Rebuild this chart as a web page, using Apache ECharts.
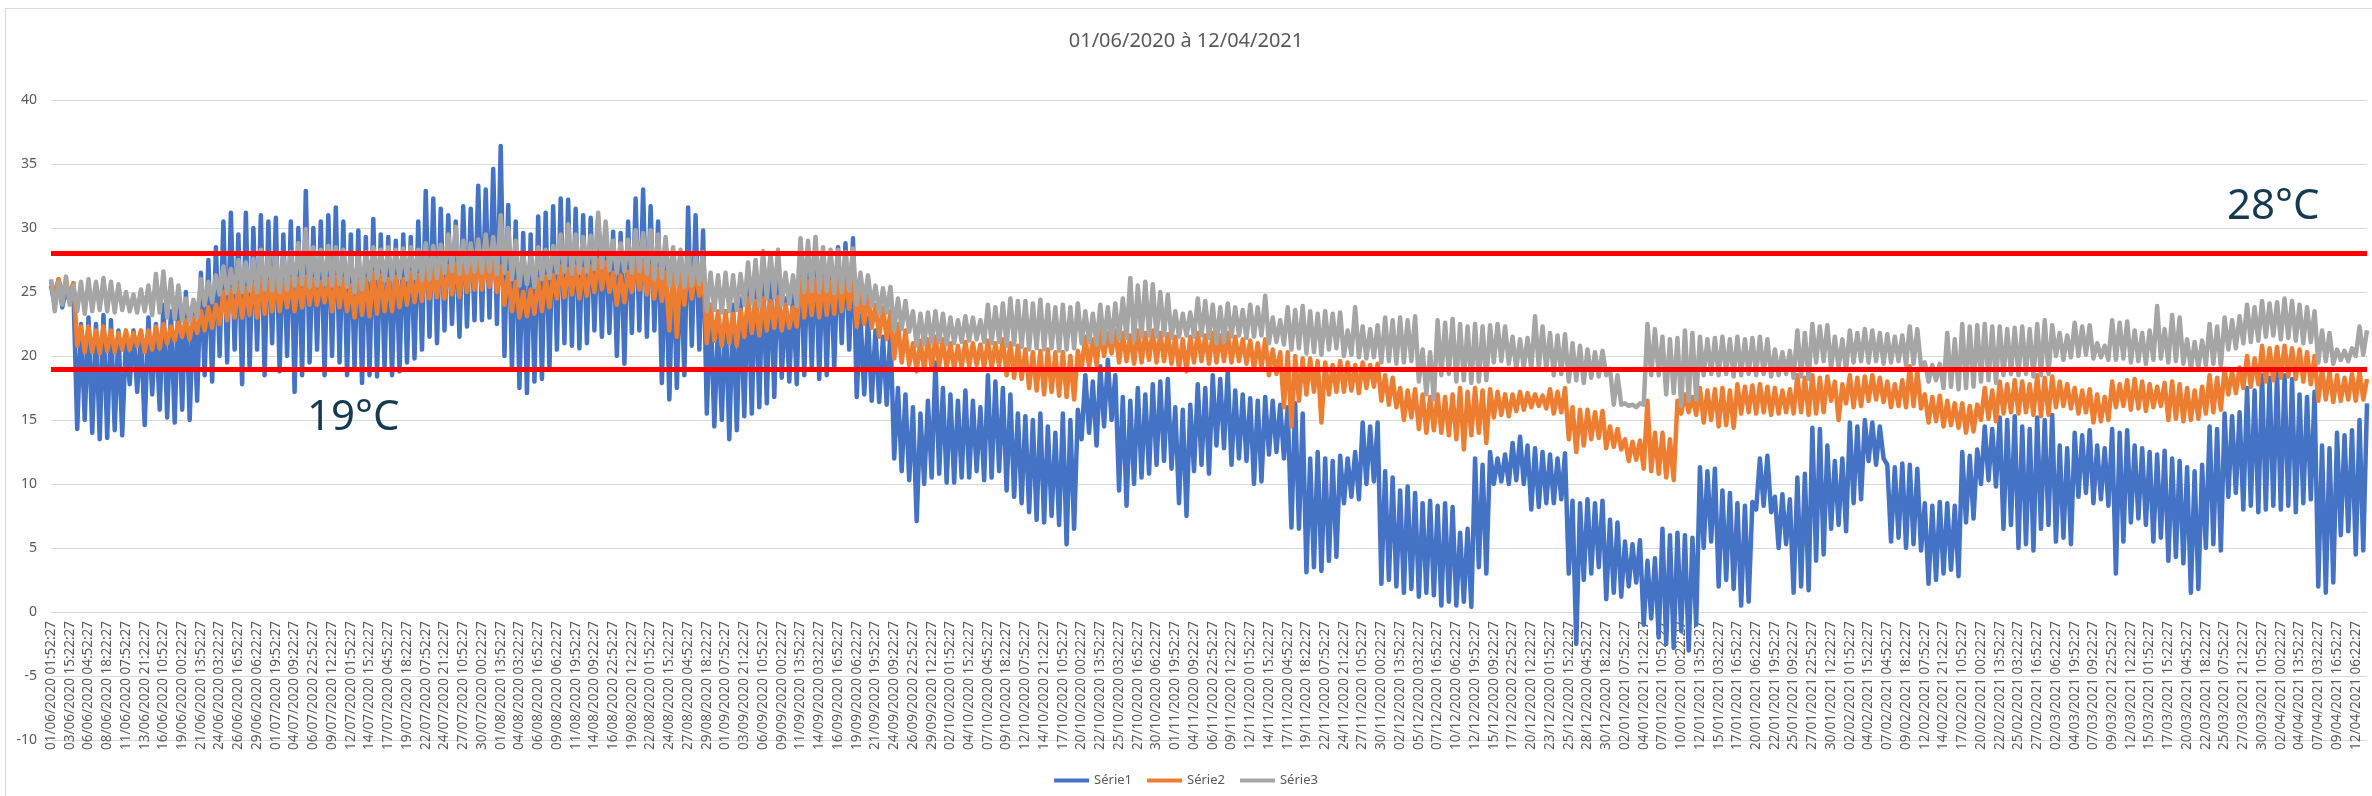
<!DOCTYPE html>
<html>
<head>
<meta charset="utf-8">
<title>01/06/2020 à 12/04/2021</title>
<script src="https://cdn.jsdelivr.net/npm/echarts@6/dist/echarts.min.js"></script>
<style>
  html, body { margin: 0; padding: 0; background: #fff; }
  #frame { position: absolute; left: 5px; top: 8px; width: 2400px; height: 900px;
           border-left: 1px solid #d9d9d9; border-top: 1px solid #d9d9d9; }
  #chart { position: absolute; left: 0; top: 0; width: 2372px; height: 796px; }
</style>
</head>
<body>
<div id="frame"></div>
<div id="chart"></div>
<script>
// one point every 12.3 h, a tick label every 5 points (61.5 h)
var START = Date.UTC(2020, 5, 1, 1, 52, 27)
var STEP_HOURS = 12.3
var LABEL_EVERY = 5

var seriesNames = ['Série1', 'Série2', 'Série3']
var thresholds = [28, 19]
var Y_MIN = -10
var Y_MAX = 40

var serie1 = [
  25.5, 24, 26, 23.8, 25.2,  24.2, 25, 14.3, 22.5, 15,  23, 14, 22.5, 13.5, 23.2,  13.6, 22.8, 14.2, 22, 13.8,
  21.5, 17.8, 22, 17.2, 21.8,  14.6, 23, 17, 22.5, 15.8,  24, 15.2, 23.5, 14.8, 24.5,  15.8, 25, 15, 24, 16.5,
  26.5, 18.5, 27.5, 18, 28.5,  20, 30.5, 19.5, 31.2, 20.5,  29.5, 17.8, 31.2, 19, 30,  20.5, 31, 18.5, 30.5, 21,
  30.8, 18.8, 29.5, 20, 30.5,  17.2, 30, 18.5, 32.9, 19.5,  30, 20.5, 30.5, 18.5, 31,  20, 31.6, 19.5, 30.5, 18.5,
  29.5, 19, 29.8, 17.9, 29.3,  18.5, 30.7, 18.4, 29.5, 19,  29.3, 18.5, 29, 18.8, 29.5,  19.5, 29.3, 19.8, 30.5, 20.5,
  32.9, 21.5, 32.3, 21, 31.5,  22, 31, 22.5, 30.5, 21.5,  31.7, 22.3, 31.5, 22.8, 33.3,  22.8, 33, 23, 34.6, 22.5,
  36.4, 20, 31.8, 19, 30.5,  17.5, 29.6, 17.1, 29.5, 18,  30.9, 18.2, 31.2, 19, 31.7,  20.5, 32.3, 21, 32.2, 20.8,
  31.5, 20.6, 31, 21, 30.8,  22, 30.4, 21.5, 30, 21.8,  29.7, 20, 29.6, 19.4, 30.5,  21.8, 32.3, 22, 33, 21.5,
  31.7, 22, 30.5, 17.9, 28.3,  16.6, 28, 17.5, 27.5, 18.5,  31.6, 20.8, 31, 20.5, 29.8,  15.5, 24, 14.5, 22.5, 15,
  23.5, 13.5, 24, 14.2, 24.5,  15.3, 26, 15.5, 26.5, 16,  27, 16.3, 26.5, 16.8, 27.5,  18.3, 24.5, 18, 25, 17.8,
  28.8, 18.5, 28.5, 19, 28.7,  18.2, 28, 18.5, 28.2, 19,  28.5, 21, 28.8, 20.5, 29.2,  16.8, 23.2, 17, 23, 16.5,
  22, 16.4, 21.5, 16.2, 22,  12, 17.5, 11, 17, 10.3,  16, 7.1, 15.5, 10, 16.5,  10.5, 19.5, 10.8, 17.5, 10.1,
  17, 10.1, 16.5, 10.5, 17.3,  10.5, 16.5, 11, 16, 10.3,  18.5, 10.5, 18, 11, 17.5,  9.5, 17, 9, 15.5, 8.5,
  15.3, 7.8, 15, 7.2, 15.5,  7, 14.5, 7.5, 14, 6.8,  15.5, 5.3, 15, 6.5, 15.8,  13.5, 18.5, 14, 18, 13,
  19.2, 14.5, 19.7, 15, 18.5,  9.5, 16.8, 8.3, 16.5, 10,  17.5, 10.5, 17, 10.8, 17.8,  11.5, 18, 11.8, 18.2, 11.2,
  16, 8.5, 15.8, 7.5, 16.2,  11, 17.8, 11.5, 17.5, 10.8,  18.5, 13, 18.2, 12.8, 18.8,  11.5, 17.3, 12, 17, 11.8,
  16.7, 10, 16.5, 10.2, 16.8,  12.3, 16.5, 12.5, 16.2, 12,  16, 6.6, 16.3, 6.5, 15.5,  3.1, 12, 3.5, 12.5, 3.2,
  12, 4, 11.8, 4.3, 12.2,  8.5, 12, 9, 12.5, 8.8,  14.8, 10, 14.5, 10.2, 14.8,  2.2, 11, 2.5, 10.5, 2,
  9.5, 1.5, 9.8, 1.8, 9.3,  1.2, 8.5, 1.5, 8.7, 1.3,  8.3, 0.5, 8.5, 0.8, 8.2,  0.5, 6.2, 0.8, 6.5, 0.4,
  12, 3.5, 11.5, 3, 12.5,  10, 12, 10.2, 12.3, 10,  13.2, 10.3, 13.7, 10, 13,  8, 12.8, 8.2, 12.5, 8.5,
  12.3, 8.5, 12, 8.8, 12.4,  3, 8.7, -2.5, 8.5, 2.5,  8.8, 3, 8.5, 3.5, 8.7,  1, 7.2, 1.5, 7, 1.2,
  5.5, 2, 5.3, 2.3, 5.6,  -1, 4, -0.5, 4.2, -2,  6.5, -2.5, 6, -2.8, 6.2,  -1.5, 6, -3, 5.8, -1,
  11.3, 5, 11, 5.5, 11.2,  2, 9.5, 2.5, 9.3, 1.8,  8.5, 0.5, 8.3, 0.8, 8.6,  8, 12, 8.3, 12.2, 7.8,
  9, 5, 9.2, 5.3, 8.8,  1.5, 10.5, 2, 10.8, 1.7,  14.4, 4, 14.3, 4.5, 13,  6.5, 11.8, 6.8, 12, 6.3,
  14.8, 8.5, 14.5, 8.8, 15,  11.8, 14.8, 11.5, 14.5, 12,  11.5, 5.5, 11.3, 5.8, 11.6,  5, 11.5, 5.3, 11.2, 4.8,
  8.5, 2.2, 8.3, 2.5, 8.6,  3, 8.5, 3.3, 8.3, 2.8,  12.5, 7, 12.2, 7.3, 12.7,  10, 14.5, 10.3, 14.3, 9.8,
  15.2, 6.5, 15, 6.8, 15.3,  5, 14.5, 5.3, 14.3, 4.8,  15.2, 6.5, 15, 6.8, 15.4,  5.5, 13, 5.8, 12.8, 5.3,
  14, 9, 13.8, 9.3, 14.2,  8.5, 13, 8.8, 12.8, 8.3,  14.3, 3, 14, 5.5, 14.2,  7, 13, 7.3, 12.8, 6.8,
  12.5, 5.5, 12.3, 5.8, 12.6,  4, 12, 4.3, 11.8, 3.8,  11.3, 1.5, 11, 1.8, 11.5,  5, 14.5, 5.3, 14.3, 4.8,
  15.5, 9, 15.3, 9.3, 15.6,  8, 17.5, 8.3, 17.3, 7.8,  18.5, 8, 18.3, 8.3, 18.7,  8, 18.5, 8.3, 18.2, 7.8,
  17, 8.5, 16.8, 8.8, 17.2,  2, 13, 1.5, 12.8, 2.3,  14, 6, 13.8, 6.3, 14.2,  4.5, 15, 4.8, 16.3
]

var serie2 = [
  25.8, 24.8, 26, 25, 25.5,  25, 25.7, 20.8, 22.3, 20.3,  22.3, 20.3, 22, 20.2, 22.3,  20.4, 22, 20.3, 21.8, 20.5,
  22, 20.5, 21.8, 20.8, 22,  20.3, 22, 20.5, 22.3, 20.6,  22.5, 21, 22.3, 21.2, 22.6,  21.5, 22.8, 21.3, 23, 21.8,
  23.5, 22, 23.8, 22.2, 24,  22.5, 25, 22.8, 25.2, 23,  25.5, 23, 25.3, 23.2, 25.6,  23, 26, 23.3, 25.8, 23.5,
  26, 23.5, 25.8, 23.8, 26,  23.5, 26, 23.8, 26.2, 24,  26, 24, 25.8, 24.2, 26,  23.5, 26.2, 23.8, 26, 23.5,
  25.5, 23, 25.8, 23.2, 26,  23.1, 26.5, 23.3, 26.3, 23.5,  26, 23.5, 26.2, 23.8, 26,  24, 26.5, 24.2, 26.3, 24.3,
  27, 24.5, 26.8, 24.6, 27,  24.5, 27, 24.8, 27.2, 24.6,  27.5, 25, 27.3, 25.2, 27.6,  25.2, 27.8, 25.4, 27.6, 25,
  27, 24, 26.5, 23.5, 25.8,  23, 25, 23.1, 25.2, 23.3,  26, 23.5, 26.2, 23.8, 26.3,  24.5, 27, 24.6, 26.8, 24.8,
  27, 24.5, 26.8, 24.7, 27,  25, 27.5, 25.2, 27.3, 25,  26.5, 24, 26.3, 24.2, 26.6,  25, 27.5, 25.2, 27.3, 24.8,
  27, 24.5, 26.8, 24.3, 26.5,  22, 27, 21.5, 26.8, 24,  27, 24.5, 26.8, 24.7, 26.5,  21, 24, 21.2, 23.5, 20.8,
  23.5, 21, 23.3, 20.8, 23.6,  21.5, 24.5, 21.8, 24.3, 21.6,  24.5, 22, 24.3, 22.2, 24.6,  22, 24, 22.2, 23.8, 22.3,
  26, 23, 25.8, 23.2, 26,  23, 26, 23.2, 25.8, 23.3,  26.5, 23.5, 26.3, 23.7, 26.4,  22.3, 25, 22.5, 24.8, 22.2,
  24, 21.5, 23.8, 21.3, 23.5,  19.8, 22.5, 19.5, 22, 19.3,  21, 18.8, 21.2, 18.9, 21.3,  19, 21.5, 19.2, 21.3, 19,
  21, 19, 20.8, 19.1, 21.1,  19.2, 21, 19.3, 20.9, 19.1,  21.2, 19, 21, 19.2, 21.3,  18.5, 21, 18.3, 20.8, 18.2,
  20.5, 17.5, 20.3, 17.3, 20.4,  17, 20.5, 17.2, 20.3, 16.9,  20.3, 16.8, 20, 16.6, 20.4,  19, 21.5, 19.2, 21.3, 19.3,
  22, 20, 21.8, 20.2, 22,  19.5, 21.8, 19.6, 21.6, 19.4,  22, 19.5, 21.8, 19.7, 22,  19.5, 21.8, 19.6, 21.7, 19.4,
  21.5, 19, 21.3, 18.8, 21.5,  19.5, 21.8, 19.6, 21.6, 19.4,  21.8, 19.5, 21.6, 19.6, 21.8,  19.5, 21.5, 19.6, 21.3, 19.4,
  21.2, 19, 21, 19.1, 21.3,  18.5, 20.5, 18.6, 20.3, 16,  20.3, 14.5, 20, 16.5, 19.8,  17, 19.8, 17.2, 19.6, 14.8,
  19.5, 17, 19.3, 17.2, 19.6,  17.2, 19.5, 17.3, 19.3, 17.1,  19.5, 17.5, 19.3, 17.6, 19.4,  16.5, 18.5, 16.2, 18.3, 16,
  17.5, 15, 17.3, 15.2, 17.4,  14.3, 17, 14, 16.8, 14.2,  17, 14, 16.8, 13.8, 17,  13.5, 17.5, 12.7, 17.2, 13.8,
  17.5, 14, 17.3, 13.2, 17.4,  15.2, 17.2, 15.4, 17, 15.3,  17, 15.7, 17.2, 15.8, 17.1,  16, 17, 16.1, 16.9, 15.9,
  17.4, 15.5, 17.2, 15.6, 17.5,  13.5, 16, 12.5, 15.8, 13,  15.8, 13.5, 15.6, 13.6, 15.7,  12.8, 14.5, 12.9, 14.3, 12.7,
  13.5, 11.8, 13.3, 11.9, 13.4,  11.2, 16.5, 11, 14, 10.8,  14, 10.5, 13.5, 10.3, 16.5,  15.5, 17, 15.6, 16.8, 15.4,
  17.5, 14.8, 17.3, 15, 17.4,  14.5, 17.5, 14.6, 17.3, 14.4,  17.8, 15.5, 17.6, 15.6, 17.7,  15.5, 17.8, 15.6, 17.6, 15.4,
  17.5, 15.5, 17.3, 15.6, 17.4,  15.5, 18.5, 15.6, 18.3, 15.4,  18.5, 15.5, 18.3, 15.6, 18.4,  16.5, 18, 15, 17.8, 16.3,
  18.5, 16, 18.3, 16.1, 18.4,  16.5, 18.5, 16.6, 18.3, 16.4,  18, 16, 17.8, 16.1, 18.1,  16, 19.2, 16.1, 18.8, 15.9,
  17, 14.8, 16.8, 14.9, 16.9,  14.5, 16.5, 14.6, 16.3, 14.4,  16.3, 14, 16.1, 14.1, 16.2,  15, 17.5, 15.1, 17.3, 14.9,
  18, 15.5, 17.8, 15.6, 18.1,  15.5, 18, 15.6, 17.8, 15.4,  18.5, 15.3, 18.3, 15.4, 18.4,  16, 18, 16.1, 17.8, 15.9,
  17.5, 15.5, 17.3, 15.6, 17.4,  14.8, 17, 14.9, 16.8, 15,  18, 16, 17.8, 16.1, 18.1,  15.8, 18.2, 15.9, 18, 15.7,
  17.8, 16, 17.6, 16.1, 17.9,  15, 18, 15.1, 17.8, 14.9,  17.5, 15, 17.3, 15.1, 17.6,  15.5, 18.5, 15.6, 18.3, 15.8,
  19, 17, 18.8, 17.1, 19.1,  17.5, 20, 17.6, 19.8, 17.8,  20.8, 18, 20.6, 18.1, 20.7,  18.3, 20.8, 18.4, 20.6, 18.2,
  20.5, 18, 20.3, 17.8, 20,  16.5, 19, 16.6, 18.8, 16.4,  18.5, 16.5, 18.3, 16.6, 18.6,  16.5, 18.8, 16.6, 18.2
]

var serie3 = [
  26, 23.5, 25.8, 24, 26.2,  24, 25.5, 23.5, 25.8, 23.3,  26, 23.5, 25.8, 23.6, 26.1,  23.5, 25.8, 23.4, 25.6, 23.6,
  25, 23.5, 24.8, 23.4, 25.2,  23.5, 25.5, 23.2, 26.4, 23.4,  26.6, 23, 26, 22.9, 25.5,  22.8, 24.5, 22.7, 24.4, 23,
  26, 24, 25.8, 24.2, 26.3,  24.8, 27, 24.9, 26.8, 25,  27.5, 25, 27.3, 25.1, 27.6,  25, 28.3, 25.2, 28, 25.1,
  28, 25, 27.8, 25.2, 28.1,  25.5, 28.8, 25.6, 29.9, 25.4,  28.5, 25.5, 28.3, 25.6, 28.6,  25.5, 28.5, 25.6, 28.3, 25.4,
  28, 25, 27.8, 25.2, 28.1,  26, 28.5, 26.1, 28.3, 25.9,  28.5, 26, 28.3, 26.1, 28.4,  26, 28.5, 26.1, 28.3, 25.9,
  28.8, 26, 28.6, 26.1, 28.7,  26.5, 29.5, 26.6, 30.1, 26.4,  29, 26.5, 28.8, 26.6, 29.1,  26.5, 29.5, 26.6, 29.3, 26.4,
  31, 26.5, 30, 26, 29,  25.5, 28, 25.6, 27.8, 25.4,  28.5, 26, 28.3, 26.1, 28.6,  26.5, 29.5, 26.6, 30.3, 26.4,
  29.5, 26.5, 29.3, 26.6, 29.4,  26.8, 31.2, 26.9, 30.5, 26.7,  29, 26.5, 28.8, 26.6, 29.1,  26.5, 29.8, 26.6, 29.6, 26.4,
  29.8, 26, 29.5, 26.1, 29.3,  25.5, 28.5, 25.6, 28.3, 25.4,  28, 25.5, 27.8, 25.6, 28.1,  23.5, 26.5, 23.6, 26.3, 23.4,
  26.5, 23.5, 26.3, 23.6, 26.4,  24, 27.3, 24.1, 27.5, 23.9,  28.2, 24.5, 28, 24.6, 28.3,  24, 26.5, 24.1, 26.3, 23.9,
  29.2, 25, 29, 25.1, 29.3,  25, 28.5, 25.1, 28.3, 24.9,  28.3, 25, 28.1, 25.1, 28.4,  24, 26.5, 24.1, 26.3, 23.9,
  25.5, 23.3, 25.3, 23.4, 25.4,  22, 24.5, 22.1, 24.3, 21.9,  23.5, 20.8, 23.3, 20.9, 23.4,  21, 23.5, 21.1, 23.3, 20.9,
  23, 21, 22.8, 21.1, 23.1,  21.2, 23, 21.3, 22.8, 21.1,  24, 21, 23.8, 21.1, 24.1,  20.8, 24.5, 20.9, 24.3, 20.7,
  24.3, 20.5, 24.1, 20.6, 24.4,  20.5, 24, 20.6, 23.8, 20.4,  24, 20.5, 23.8, 20.6, 24.1,  21, 23.5, 21.1, 23.3, 20.9,
  24, 21, 23.8, 21.1, 24.1,  21.3, 24.5, 21.4, 26.1, 21.2,  25.5, 21.5, 25.8, 21.6, 25.6,  21.5, 25, 21.6, 24.8, 21.4,
  23.5, 21.5, 23.3, 21.6, 23.4,  21.5, 24.5, 21.6, 24.3, 21.4,  24, 21, 23.8, 21.1, 24.1,  21.5, 23.8, 21.6, 23.6, 21.4,
  24, 21.5, 23.8, 21.6, 24.7,  21, 23, 21.1, 22.8, 20.9,  23.8, 20.5, 23.6, 20.6, 23.9,  20.2, 23.5, 20.3, 23.3, 20.1,
  23.5, 20.5, 23.3, 20.6, 23.4,  20, 22, 20.1, 23.8, 19.9,  22.3, 19.8, 22.1, 19.9, 22.4,  19.5, 23, 19.6, 22.8, 19.4,
  23, 19.5, 22.8, 19.6, 23.1,  18, 20.5, 17, 20.3, 16.6,  22.8, 18.5, 22.6, 18.6, 22.9,  18, 22.5, 18.1, 22.3, 17.9,
  22.5, 18, 22.3, 18.1, 22.4,  19.5, 22.5, 19.6, 22.3, 19.4,  21.5, 19, 21.3, 19.1, 21.4,  19, 23.1, 19.1, 22.3, 18.9,
  21.8, 18.5, 21.6, 18.6, 21.7,  18, 21, 18.1, 20.8, 17.9,  20.5, 18.3, 20.3, 18.4, 20.4,  18.5, 19, 16.2, 18.5, 16.2,
  16.3, 16.1, 16.2, 16, 16.3,  16.2, 22.5, 18.5, 22.1, 18.5,  21.5, 17, 21.3, 17.1, 21.4,  16.1, 22, 16.5, 21.8, 16.6,
  21.5, 18.5, 21.3, 18.6, 21.4,  18.5, 21.5, 18.6, 21.3, 18.4,  21.5, 18.5, 21.3, 18.6, 21.4,  18.5, 21.5, 18.6, 21.3, 18.4,
  20.5, 18.5, 20.3, 18.6, 20.4,  18.3, 22, 18.4, 21.8, 18.2,  22.5, 19.5, 22.3, 19.6, 22.4,  19, 21.5, 19.1, 21.3, 18.9,
  22, 19.5, 21.8, 19.6, 22.1,  19.5, 22, 19.6, 21.8, 19.4,  21.7, 19.5, 21.5, 19.6, 21.6,  19.3, 22.3, 19.4, 22.1, 19.2,
  19.5, 18, 19.3, 18.1, 19.4,  17.5, 21.8, 17.6, 21.3, 17.4,  22.5, 17.5, 22.3, 17.6, 22.4,  18, 22.5, 18.1, 22.3, 17.9,
  22.3, 18.5, 22.1, 18.6, 22.2,  18.5, 22.3, 18.6, 22.1, 18.4,  22.5, 18.5, 22.8, 18.6, 22.4,  20, 21.8, 19.7, 21.6, 19.9,
  22.6, 20, 22.3, 20.1, 22.4,  19.8, 21, 19.9, 20.8, 19.7,  22.8, 19.7, 22.6, 19.8, 22.7,  19.5, 22, 19.6, 21.8, 19.4,
  22, 19.7, 23.9, 19.8, 22.1,  19.5, 23.2, 19.6, 23, 19.4,  21.3, 19, 21.1, 19.1, 21.2,  19.3, 22.5, 19.4, 22.3, 19.2,
  23, 20.5, 22.8, 20.6, 23.1,  21, 24, 21.1, 23.8, 21.2,  24.3, 21.5, 24.1, 21.6, 24.2,  21.3, 24.5, 21.4, 24.3, 21.2,
  24, 21, 23.8, 21.1, 23.5,  19.5, 22, 19.6, 21.8, 19.4,  20.5, 19.7, 20.4, 19.6, 20.6,  20, 22.3, 20.1, 22
]

function pad(n) {
  return (n < 10 ? '0' : '') + n
}
function formatStamp(t) {
  var d = new Date(t)
  return pad(d.getUTCDate()) + '/' + pad(d.getUTCMonth() + 1) + '/' + d.getUTCFullYear() + ' ' +
    pad(d.getUTCHours()) + ':' + pad(d.getUTCMinutes()) + ':' + pad(d.getUTCSeconds())
}
var categories = serie1.map(function (v, i) {
  return formatStamp(START + i * STEP_HOURS * 3600 * 1000)
})

var FONT = '"Noto Sans", "Liberation Sans", sans-serif'
var GREY_TEXT = '#595959'
var GRID_LINE = '#d9d9d9'
var colors = ['#4472c4', '#ed7d31', '#a5a5a5']

var GRID_TOP = 100
var GRID_BOTTOM = 56
var PLOT_HEIGHT = 796 - GRID_TOP - GRID_BOTTOM
// Excel crosses the category axis at 0: lift the axis from the bottom up to y = 0
var ZERO_LIFT = PLOT_HEIGHT * (0 - Y_MIN) / (Y_MAX - Y_MIN)

var chart = echarts.init(document.getElementById('chart'))

var lineSeries = [serie1, serie2, serie3].map(function (values, k) {
  return {
    name: seriesNames[k],
    type: 'line',
    data: values,
    showSymbol: false,
    symbol: 'none',
    z: 2 + k,
    lineStyle: { color: colors[k], width: 4.5, join: 'round' },
    itemStyle: { color: colors[k] }
  }
})

// red threshold lines drawn above the three series
lineSeries.push({
  name: 'seuils',
  type: 'line',
  data: [],
  z: 10,
  markLine: {
    silent: true,
    symbol: ['none', 'none'],
    label: { show: false },
    lineStyle: { color: '#ff0000', width: 5, type: 'solid' },
    data: thresholds.map(function (t) { return { yAxis: t } })
  }
})

chart.setOption({
  animation: false,
  textStyle: { fontFamily: FONT },
  title: {
    text: '01/06/2020 à 12/04/2021',
    left: 'center',
    top: 26,
    textStyle: { fontFamily: FONT, fontSize: 20, fontWeight: 'normal', color: GREY_TEXT }
  },
  legend: {
    data: seriesNames,
    left: 'center',
    top: 769,
    icon: 'rect',
    itemWidth: 35,
    itemHeight: 4,
    itemGap: 15,
    textStyle: { fontFamily: FONT, fontSize: 13, color: GREY_TEXT }
  },
  grid: {
    left: 51, right: 5, top: GRID_TOP, bottom: GRID_BOTTOM,
    containLabel: false,
    outerBoundsMode: 'none'
  },
  xAxis: {
    type: 'category',
    data: categories,
    boundaryGap: false,
    position: 'bottom',
    offset: -ZERO_LIFT,
    axisLine: { onZero: false, lineStyle: { color: GRID_LINE, width: 1 } },
    axisTick: { show: false },
    axisLabel: {
      interval: LABEL_EVERY - 1,
      rotate: 90,
      margin: 9,
      fontFamily: FONT,
      fontSize: 13.5,
      color: GREY_TEXT
    },
    splitLine: { show: false }
  },
  yAxis: {
    type: 'value',
    min: Y_MIN,
    max: Y_MAX,
    interval: 5,
    axisLine: { show: false },
    axisTick: { show: false },
    axisLabel: { margin: 14, fontFamily: FONT, fontSize: 14, color: GREY_TEXT },
    splitLine: { lineStyle: { color: GRID_LINE, width: 1 } }
  },
  graphic: [
    { type: 'text', left: 2227, top: 186, z: 20,
      style: { text: '28°C', font: '42px ' + FONT, fill: '#163b50' } },
    { type: 'text', left: 307, top: 397, z: 20,
      style: { text: '19°C', font: '42px ' + FONT, fill: '#163b50' } }
  ],
  series: lineSeries
})
</script>
</body>
</html>
